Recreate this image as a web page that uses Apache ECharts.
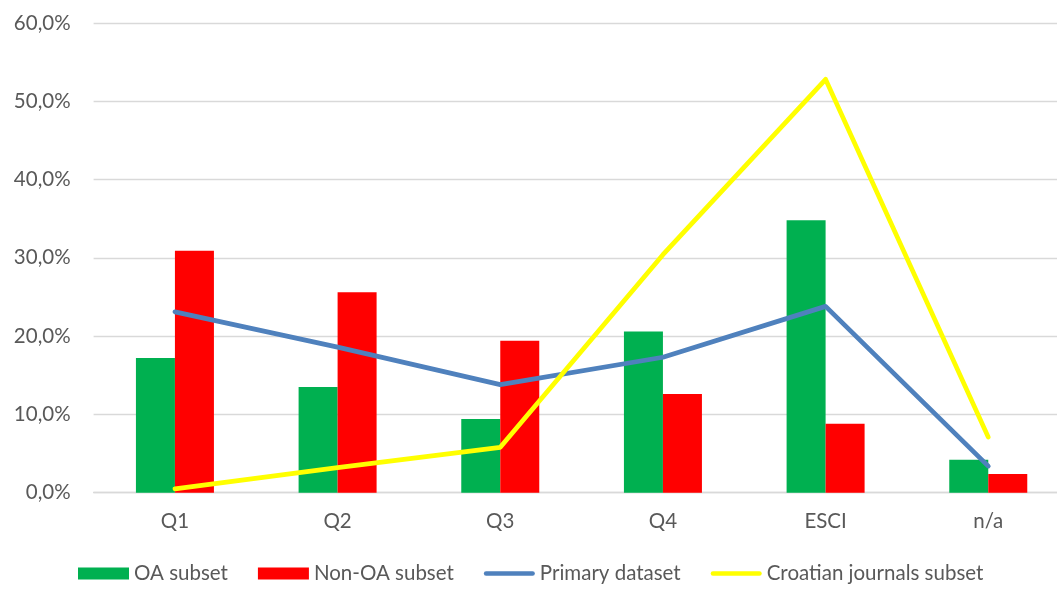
<!DOCTYPE html>
<html>
<head>
<meta charset="utf-8">
<script src="https://cdn.jsdelivr.net/npm/echarts@6/dist/echarts.min.js"></script>
<style>
html,body{margin:0;padding:0;background:#fff;}
#chart{width:1057px;height:589px;}
</style>
</head>
<body>
<div id="chart"></div>
<script>
const categories = ['Q1', 'Q2', 'Q3', 'Q4', 'ESCI', 'n/a'];
const oaSubset = [17.2, 13.5, 9.4, 20.6, 34.8, 4.2];
const nonOaSubset = [30.9, 25.6, 19.4, 12.6, 8.8, 2.4];
const primaryDataset = [23.1, 18.6, 13.8, 17.3, 23.8, 3.4];
const croatianSubset = [0.5, 3.2, 5.8, 30.4, 52.8, 7.1];
const seriesNames = ['OA subset', 'Non-OA subset', 'Primary dataset', 'Croatian journals subset'];

const textColor = '#595959';
const fontFamily = 'Lato, "Open Sans", sans-serif';
const lineIcon = 'path://M2.25,0 L48.75,0 A2.25,2.25 0 0 1 48.75,4.5 L2.25,4.5 A2.25,2.25 0 0 1 2.25,0 Z';

const chart = echarts.init(document.getElementById('chart'));
chart.setOption({
  animation: false,
  backgroundColor: '#fff',
  textStyle: { fontFamily: fontFamily, color: textColor },
  grid: { left: 93.6, width: 976, top: 23, height: 469.7, containLabel: false, outerBoundsMode: 'none' },
  legend: {
    top: 563,
    left: 78,
    padding: 0,
    itemWidth: 51,
    itemHeight: 12,
    itemGap: 30,
    symbolKeepAspect: true,
    textStyle: { fontSize: 20.5, color: textColor, fontFamily: fontFamily },
    data: [
      { name: seriesNames[0], icon: 'rect' },
      { name: seriesNames[1], icon: 'rect' },
      { name: seriesNames[2], icon: lineIcon },
      { name: seriesNames[3], icon: lineIcon }
    ]
  },
  xAxis: {
    type: 'category',
    data: categories,
    axisTick: { show: false },
    axisLine: { lineStyle: { color: '#D9D9D9', width: 1.3 } },
    axisLabel: { fontSize: 20.5, color: textColor, margin: 18, fontFamily: fontFamily }
  },
  yAxis: {
    type: 'value',
    min: 0,
    max: 60,
    interval: 10,
    axisLine: { show: false },
    axisTick: { show: false },
    splitLine: { lineStyle: { color: '#D9D9D9', width: 1.3 } },
    axisLabel: {
      fontSize: 20.5, color: textColor, margin: 23, fontFamily: fontFamily,
      formatter: v => v.toFixed(1).replace('.', ',') + '%'
    }
  },
  series: [
    {
      name: seriesNames[0], type: 'bar', data: oaSubset,
      barWidth: 39, barGap: '0%',
      itemStyle: { color: '#00B050' }
    },
    {
      name: seriesNames[1], type: 'bar', data: nonOaSubset,
      barWidth: 39, barGap: '0%',
      itemStyle: { color: '#FF0000' }
    },
    {
      name: seriesNames[2], type: 'line', data: primaryDataset,
      symbol: 'none', showSymbol: false,
      lineStyle: { color: '#4F81BD', width: 4.75, cap: 'round', join: 'round' },
      itemStyle: { color: '#4F81BD' }
    },
    {
      name: seriesNames[3], type: 'line', data: croatianSubset,
      symbol: 'none', showSymbol: false,
      lineStyle: { color: '#FFFF00', width: 4.75, cap: 'round', join: 'round' },
      itemStyle: { color: '#FFFF00' }
    }
  ]
});
</script>
</body>
</html>
